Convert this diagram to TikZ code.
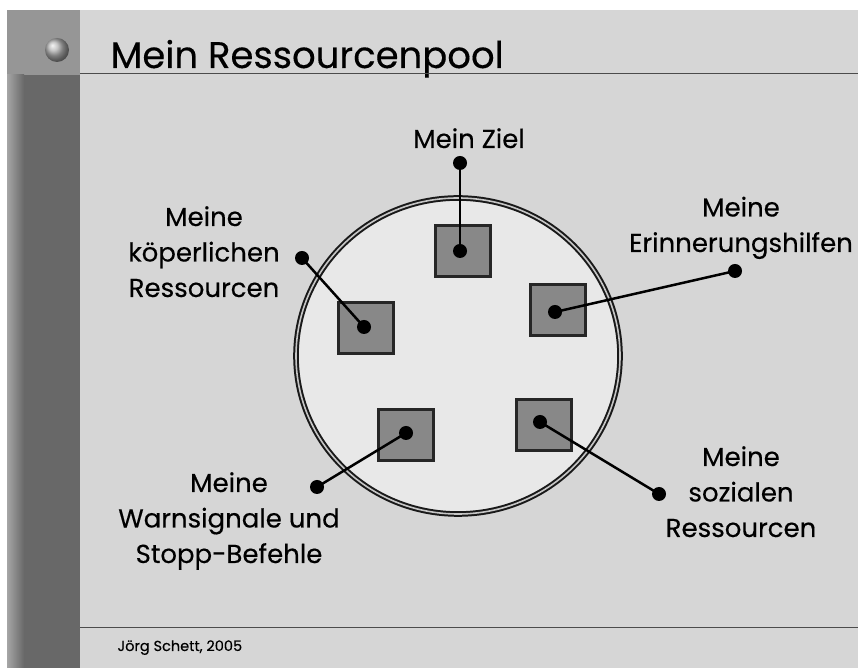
\documentclass[tikz,border=0pt]{standalone}
\usepackage{fontspec}
\setmainfont{Poppins}
\newfontfamily\labelfont{Poppins}[FakeBold=0.3]
\usetikzlibrary{positioning}

\definecolor{slidebg}{RGB}{214,214,214}
\definecolor{poolbg}{RGB}{232,232,232}
\definecolor{boxgray}{RGB}{136,136,136}
\definecolor{bartop}{RGB}{150,150,150}
\definecolor{barlow}{RGB}{104,104,104}

\begin{document}
\begin{tikzpicture}[x=1pt, y=1pt,
    label/.style={align=center, anchor=base, font=\labelfont\fontsize{26}{35.5}\selectfont},
    dot/.style={circle, fill=black, inner sep=0pt, minimum size=14pt},
    box/.style={draw=black!85, line width=3pt, fill=boxgray, minimum width=55pt, minimum height=51pt, inner sep=0pt},
    link/.style={line width=2.5pt}]
    \useasboundingbox (0,0) rectangle (858,668);
    % Draw slide background
    \fill[white] (0,0) rectangle (858,668);
    \fill[slidebg] (7,0) rectangle (858,658);
    \fill[barlow] (7,0) rectangle (80,593);
    \fill[bartop] (7,593) rectangle (80,658);
    \shade[left color=gray!70, right color=barlow] (7,0) rectangle (24,593);
    \shade[ball color=gray!60] (57,618) circle (12);
    % Draw title and footer
    \node[anchor=base west, font=\labelfont\fontsize{37}{40}\selectfont] (title) at (107,600) {Mein Ressourcenpool};
    \draw[black!70, line width=0.7pt] (80,595) -- (858,595);
    \draw[black!70, line width=0.7pt] (80,41) -- (858,41);
    \node[anchor=base west, font=\labelfont\fontsize{14.5}{16}\selectfont] (footer) at (114,17) {Jörg Schett, 2005};
    % Draw the pool
    \draw[fill=poolbg, draw=black!90, line width=2pt, double=gray!45, double distance=1.6pt] (458,312) ellipse (162 and 158);
    \node[box] (ziel) at (463,417) {};
    \node[box] (koerper) at (366,340) {};
    \node[box] (erinn) at (558,358) {};
    \node[box] (warn) at (406,233) {};
    \node[box] (sozial) at (544,243) {};
    % Draw the dots inside the boxes
    \node[dot] (zielIn) at (460,417) {};
    \node[dot] (koerperIn) at (364,341) {};
    \node[dot] (erinnIn) at (555,356) {};
    \node[dot] (warnIn) at (406,235) {};
    \node[dot] (sozialIn) at (540,246) {};
    % Draw the outer dots and connectors
    \node[dot] (zielOut) at (460,505) {};
    \node[dot] (koerperOut) at (302,410) {};
    \node[dot] (erinnOut) at (735,397) {};
    \node[dot] (warnOut) at (317,181) {};
    \node[dot] (sozialOut) at (659,174) {};
    \draw[link] (zielIn.center) -- (zielOut.center);
    \draw[link] (koerperIn.center) -- (koerperOut.center);
    \draw[link] (erinnIn.center) -- (erinnOut.center);
    \draw[link] (warnIn.center) -- (warnOut.center);
    \draw[link] (sozialIn.center) -- (sozialOut.center);
    % Draw the labels (base = last line)
    \node[label] (zielText) at (469,520) {Mein Ziel};
    \node[label] (koerperText) at (204,371) {Meine\\köperlichen\\Ressourcen};
    \node[label] (erinnText) at (741,416) {Meine\\Erinnerungshilfen};
    \node[label] (warnText) at (229,105) {Meine\\Warnsignale und\\Stopp-Befehle};
    \node[label] (sozialText) at (741,131) {Meine\\sozialen\\Ressourcen};
\end{tikzpicture}
\end{document}
